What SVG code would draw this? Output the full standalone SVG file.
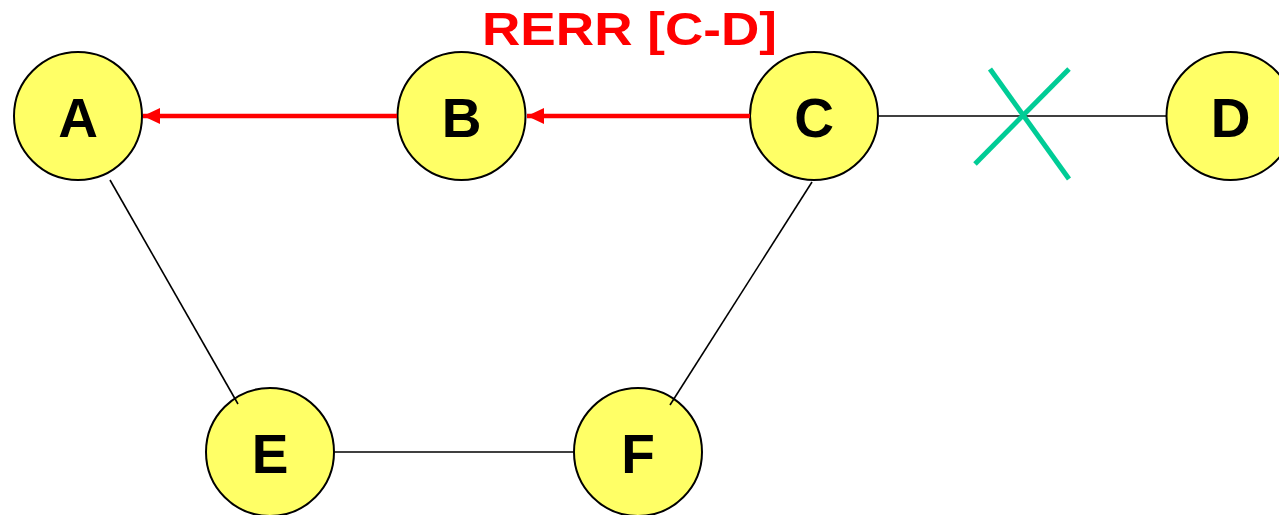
<svg xmlns="http://www.w3.org/2000/svg" width="1279" height="515" viewBox="0 0 1279 515">
  <style>
    .node circle { fill: #FFFF66; stroke: #000; stroke-width: 2; }
    .node text { font-family: "Liberation Sans", Arial, sans-serif; font-weight: bold; font-size: 55px; fill: #000; text-anchor: middle; }
    .link { stroke: #000; stroke-width: 1.6; fill: none; }
    .rerr { stroke: #FF0000; stroke-width: 4.5; fill: none; marker-end: url(#redArrow); }
    .cross { stroke: #00CC96; stroke-width: 5; }
    .title { font-family: "Liberation Sans", Arial, sans-serif; font-weight: bold; font-size: 46px; fill: #FF0000; }
  </style>
  <defs>
    <marker id="redArrow" markerUnits="userSpaceOnUse" markerWidth="18" markerHeight="16" refX="17" refY="8" orient="auto">
      <path d="M0,0 L17,8 L0,16 Z" fill="#FF0000"/>
    </marker>
  </defs>
  <rect width="1279" height="515" fill="#FFFFFF"/>

  <!-- caption, widened horizontally -->
  <text class="title" x="482" y="45" textLength="295" lengthAdjust="spacingAndGlyphs">RERR [C-D]</text>

  <g id="node-A" class="node"><circle cx="78" cy="116" r="64"/><text x="78" y="137">A</text></g>
  <g id="node-B" class="node"><circle cx="461.5" cy="116" r="64"/><text x="461.5" y="137">B</text></g>
  <g id="node-C" class="node"><circle cx="814" cy="116" r="64"/><text x="814" y="137">C</text></g>
  <g id="node-D" class="node"><circle cx="1230.5" cy="116" r="64"/><text x="1230.5" y="137">D</text></g>
  <g id="node-E" class="node"><circle cx="270" cy="452" r="64"/><text x="270" y="473">E</text></g>
  <g id="node-F" class="node"><circle cx="638" cy="452" r="64"/><text x="638" y="473">F</text></g>

  <g id="connectors">
    <line class="link" x1="110" y1="180" x2="238" y2="404"/>
    <line class="link" x1="812" y1="182" x2="670" y2="405"/>
    <line class="link" x1="334" y1="452" x2="574" y2="452"/>
    <line class="link" x1="878" y1="116" x2="1166" y2="116"/>
    <line class="rerr" x1="750" y1="116" x2="527" y2="116"/>
    <line class="rerr" x1="397" y1="116" x2="143" y2="116"/>
    <line class="cross" x1="990" y1="69" x2="1069" y2="179"/>
    <line class="cross" x1="1069" y1="69" x2="975" y2="164"/>
  </g>
</svg>
